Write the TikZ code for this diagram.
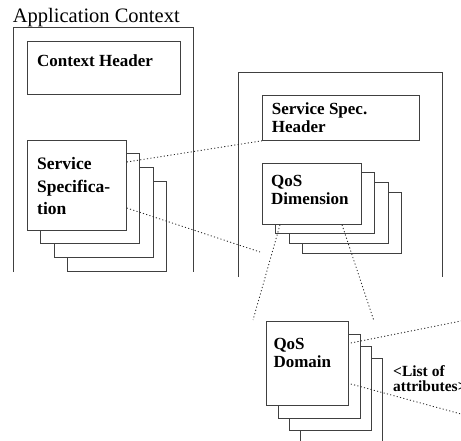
\documentclass[tikz,border=0pt]{standalone}
\usepackage{fontspec}
\setmainfont{Liberation Serif}
\usetikzlibrary{calc}

% lines stacked below the baseline of the first one
\newcommand{\textlines}[1]{\vtop{\let\\\par\hsize=200pt\parindent=0pt\raggedright\leavevmode#1\par}}

\tikzset{
  frame/.style={draw=black!75, line width=0.8pt},
  card/.style={draw=black!75, line width=0.8pt, fill=white, inner sep=0pt,
    anchor=north west},
  spec/.style={card, minimum width=99pt, minimum height=90pt},
  dim/.style={card, minimum width=99pt, minimum height=61pt},
  dom/.style={card, minimum width=82pt, minimum height=84pt},
  boldtext/.style={inner sep=0pt, anchor=base west,
    font=\fontsize{17}{18}\selectfont\bfseries},
  conn/.style={draw=black!85, line width=0.85pt, dash pattern=on 1.1pt off 2.3pt},
}

\begin{document}
\begin{tikzpicture}[x=1pt, y=-1pt]
\useasboundingbox (0,0) rectangle (461,441);

% application context frame (open at the bottom)
\node[inner sep=0pt, anchor=base west, font=\fontsize{20.5}{24}\selectfont]
  (appctx) at (12.7,23) {Application Context};
\draw[frame] (13,272) -- (13,27) -- (193,27) -- (193,272);

\node[card, minimum width=153pt, minimum height=53pt] (ctxhdr) at (27,41) {};
\node[boldtext] (ctxhdrt) at (37,66.7) {Context Header};

% stack of service specifications
\node[spec] (ss4) at (67,181) {};
\node[spec] (ss3) at (53.5,167) {};
\node[spec] (ss2) at (40,153.5) {};
\node[spec] (ss1) at (27,140) {};
\node[boldtext, font=\fontsize{17.5}{22.5}\selectfont\bfseries]
  (ss1t) at (37,170) {\textlines{Service\\Specifica-\\tion}};

% service specification frame (open at the bottom)
\draw[frame] (238,277) -- (238,72) -- (442,72) -- (442,277);

\node[card, minimum width=157pt, minimum height=45pt] (ssh) at (262,95) {};
\node[boldtext] (ssht) at (271.7,115) {\textlines{Service Spec.\\Header}};

% stack of QoS dimensions
\node[dim] (qd4) at (302,192) {};
\node[dim] (qd3) at (288.5,182) {};
\node[dim] (qd2) at (275,172.5) {};
\node[dim] (qd1) at (262,163) {};
\node[boldtext] (qd1t) at (271,186.7) {\textlines{QoS\\Dimension}};

% stack of QoS domains
\node[dom, minimum height=100pt] (qm4) at (300,358) {};
\node[dom] (qm3) at (289,346) {};
\node[dom] (qm2) at (277.5,333.5) {};
\node[dom] (qm1) at (266,321) {};
\node[boldtext] (qm1t) at (273.3,349) {\textlines{QoS\\Domain}};

\node[inner sep=0pt, anchor=base west,
  font=\fontsize{15.5}{15}\selectfont\bfseries]
  (attrs) at (393,376) {\textlines{<List of\\attributes>}};

% free ends of the zoom connectors
\coordinate (e2) at (260,252);
\coordinate (e3) at (253,320);
\coordinate (e4) at (374,321);
\coordinate (e5) at (461,321);
\coordinate (e6) at (461,414);

\draw[conn] ($(ss1.north east)+(0,22)$) -- (ssh.south west);
\draw[conn] ($(ss1.north east)+(0,68)$) -- (e2);
\draw[conn] ($(qd1.south west)+(18,0)$) -- (e3);
\draw[conn] ($(qd1.south west)+(80,0)$) -- (e4);
\draw[conn] ($(qm1.north east)+(2,22)$) -- (e5);
\draw[conn] ($(qm1.north east)+(2,63)$) -- (e6);
\end{tikzpicture}
\end{document}
